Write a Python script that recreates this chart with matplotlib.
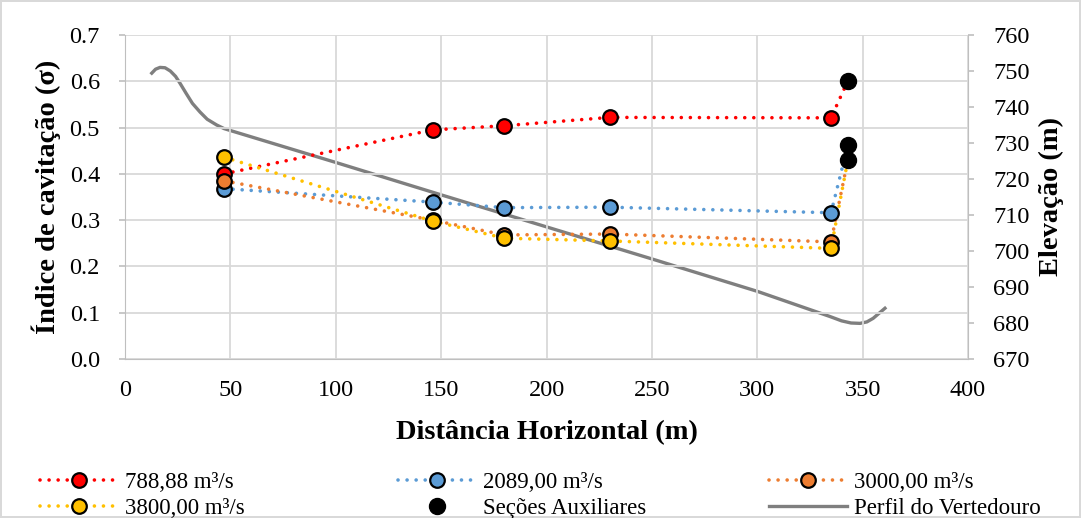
import matplotlib
matplotlib.use("Agg")
import matplotlib.pyplot as plt
from matplotlib.lines import Line2D

plt.rcParams['font.family'] = ['Liberation Serif', 'DejaVu Serif']

# cavitation index per section
dist = [47, 146, 180, 230, 335]
aux_x = 343
sig_788 = [0.400, 0.495, 0.504, 0.522, 0.521]
sig_2089 = [0.368, 0.339, 0.327, 0.328, 0.316]
sig_3000 = [0.385, 0.300, 0.268, 0.270, 0.253]
sig_3800 = [0.436, 0.298, 0.261, 0.255, 0.239]
aux_788 = 0.601
aux_2089 = 0.462
aux_3000 = 0.430
aux_3800 = 0.430
aux_vals = [0.601, 0.462, 0.430]

# spillway profile (elevation)
prof_x = [12.7, 14.5, 16.6, 19.0, 21.5, 24.0, 26.1, 29.0, 32.0, 35.6, 39.0, 43.5, 47.0, 49.8,
          100, 150, 200, 250, 300, 334.5, 340.0, 344.5, 348.8, 352.0, 355.0, 358.0, 360.6]
prof_y = [749.4, 750.5, 751.0, 750.9, 750.0, 748.5, 746.6, 743.8, 741.0, 738.6, 736.6, 735.0, 734.0, 733.5,
          724.6, 715.6, 706.7, 697.8, 688.8, 681.8, 680.6, 680.0, 679.9, 680.3, 681.3, 682.8, 684.1]

series = [
    ("788,88 m³/s", sig_788, aux_788, "#FF0000"),
    ("2089,00 m³/s", sig_2089, aux_2089, "#5B9BD5"),
    ("3000,00 m³/s", sig_3000, aux_3000, "#ED7D31"),
    ("3800,00 m³/s", sig_3800, aux_3800, "#FFC000"),
]
dots = (0, (0.01, 2.5))

fig = plt.figure(figsize=(10.81, 5.18), dpi=100)
ax = fig.add_axes([125/1081, 1-359/518, (968-125)/1081, (359-35)/518])
ax2 = ax.twinx()

handles = []
for name, vals, aux, col in series:
    ax.plot(dist + [aux_x], vals + [aux], color=col, linestyle=dots,
            linewidth=2.6, dash_capstyle='round', zorder=3)
    ax.plot(dist, vals, linestyle='none', marker='o', markersize=10.5,
            markerfacecolor=col, markeredgecolor='black', markeredgewidth=1.6, zorder=4)
    handles.append(Line2D([], [], color=col, linestyle=dots, linewidth=2.6,
                          dash_capstyle='round', marker='o', markersize=10.5,
                          markerfacecolor=col, markeredgecolor='black', markeredgewidth=1.6, label=name))

ax.plot([aux_x] * len(aux_vals), aux_vals, linestyle='none', marker='o', markersize=11.5,
        color='black', zorder=5)
handles.append(Line2D([], [], linestyle='none', marker='o', markersize=11.5, color='black',
                      label="Seções Auxiliares"))

ax2.plot(prof_x, prof_y, color='#7F7F7F', linewidth=2.4, zorder=2)
handles.append(Line2D([], [], color='#7F7F7F', linewidth=2.4, label="Perfil do Vertedouro"))

ax.set_zorder(ax2.get_zorder() + 1)
ax.patch.set_visible(False)

ax.set_xlim(0, 400)
ax.set_ylim(0, 0.7)
ax2.set_ylim(670, 760)
ax.set_xticks(range(0, 401, 50))
ax.set_yticks([i / 10 for i in range(8)])
ax.set_yticklabels([f"{i/10:.1f}" for i in range(8)])
ax2.set_yticks(range(670, 761, 10))

ax.grid(True, color='#D9D9D9', linewidth=1.3)
ax.set_axisbelow(True)
for a in (ax, ax2):
    for s in a.spines.values():
        s.set_visible(False)
    a.tick_params(labelsize=17.5, color='#BFBFBF', width=1.2)
ax.spines['left'].set_visible(True)
ax.spines['left'].set_color('#BFBFBF')
ax.spines['bottom'].set_visible(True)
ax.spines['bottom'].set_color('#BFBFBF')
ax2.spines['right'].set_visible(True)
ax2.spines['right'].set_color('#BFBFBF')
ax.tick_params(axis='x', length=0, pad=15)
ax.tick_params(axis='y', length=4, pad=14)
ax2.tick_params(axis='y', length=4, pad=14)

ax.set_xlabel("Distância Horizontal (m)", fontsize=20.5, fontweight='bold', labelpad=14)
ax.set_ylabel("Índice de cavitação (σ)", fontsize=20.5, fontweight='bold', labelpad=6)
ax2.set_ylabel("Elevação (m)", fontsize=20.5, fontweight='bold', labelpad=7)

# legend: three columns of two entries
cols = [(0, 3), (1, 4), (2, 5)]
col_x = [24, 382, 753]
for (i, j), x0 in zip(cols, col_x):
    fig.legend([handles[i], handles[j]], [handles[i].get_label(), handles[j].get_label()],
               loc='upper left', bbox_to_anchor=(x0/1081, 1-456/518), frameon=False,
               fontsize=16.5, handlelength=3.4, handletextpad=0.3, labelspacing=0.2,
               borderpad=0.2)

fig.patch.set_edgecolor('#D9D9D9')
fig.patch.set_linewidth(1.5)
fig.savefig("out.png", dpi=100)
